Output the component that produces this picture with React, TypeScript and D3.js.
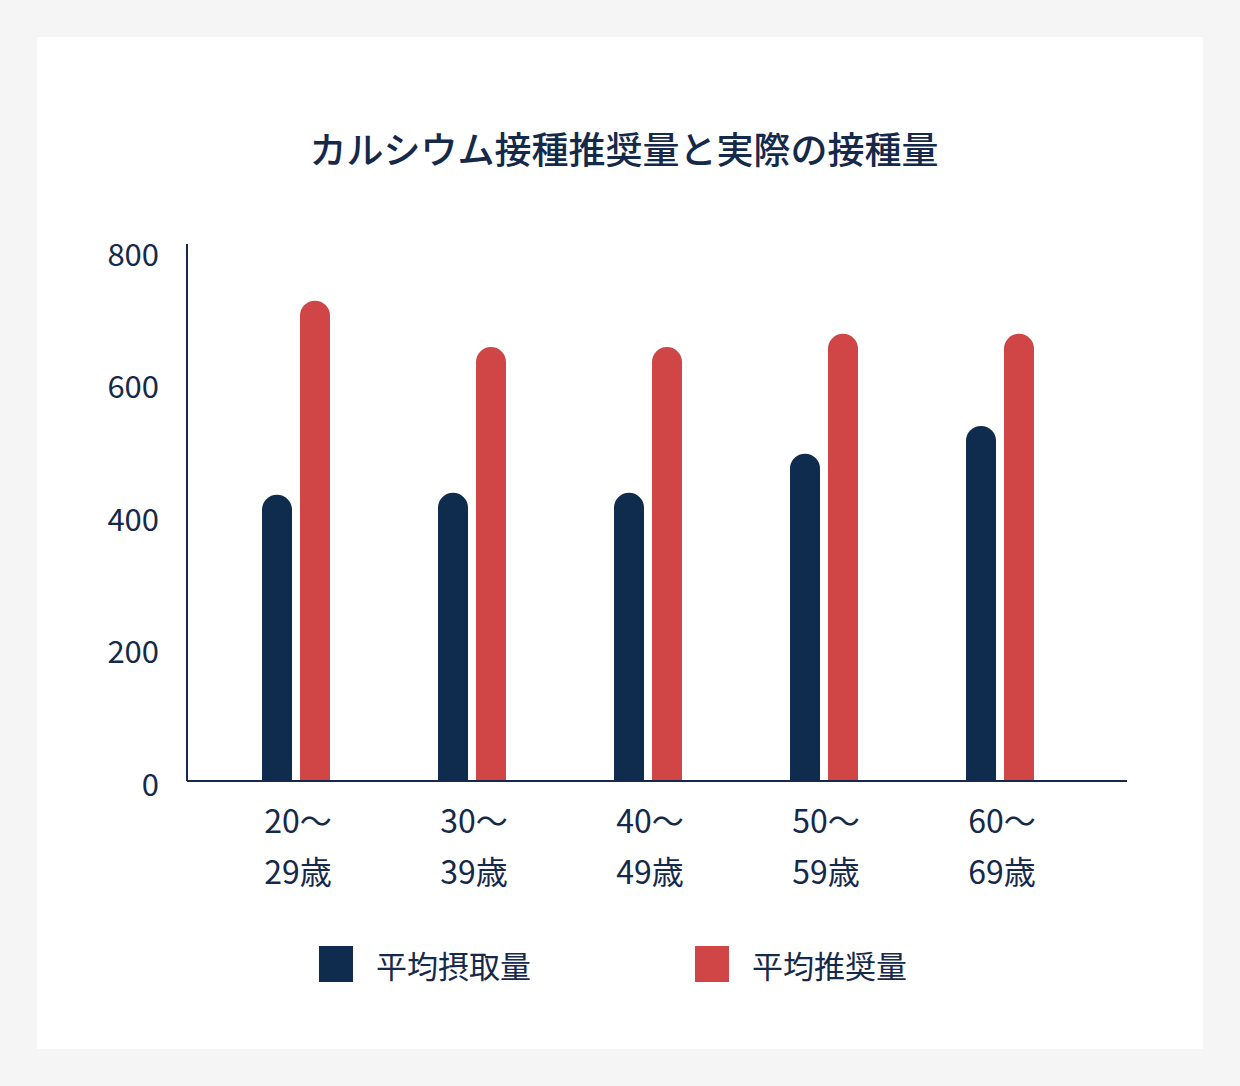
import React, { useEffect, useRef } from 'react';
import * as d3 from 'd3';

const ageTop = ['20〜', '30〜', '40〜', '50〜', '60〜'];
const ageBottom = ['29歳', '39歳', '49歳', '59歳', '69歳'];
const intake = [432, 435, 435, 494, 536];
const recommended = [725, 655, 655, 675, 675];
const yTicks = [0, 200, 400, 600, 800];
const seriesNames = ['平均摂取量', '平均推奨量'];
const seriesColors = ['#0f2b4d', '#d04647'];

const TEXT = '#15294a';
const FONT = '"Noto Sans CJK JP", "Noto Sans", sans-serif';

const App: React.FC = () => {
  const svgRef = useRef<SVGSVGElement>(null);

  useEffect(() => {
    if (!svgRef.current) return;
    const svg = d3.select(svgRef.current);
    svg.selectAll('*').remove();

    const width = 1240;
    const height = 1086;

    svg.append('rect').attr('width', width).attr('height', height).attr('fill', '#f5f5f5');
    svg.append('rect')
      .attr('x', 37).attr('y', 37)
      .attr('width', 1166).attr('height', 1012)
      .attr('fill', '#ffffff');

    // title
    svg.append('text')
      .attr('x', 624)
      .attr('y', 148)
      .attr('text-anchor', 'middle')
      .attr('dominant-baseline', 'central')
      .attr('fill', TEXT)
      .attr('font-family', FONT)
      .attr('font-size', 37)
      .attr('font-weight', 500)
      .text('カルシウム接種推奨量と実際の接種量');

    const left = 187;
    const right = 1127;
    const baseY = 781;

    const y = d3.scaleLinear().domain([0, 800]).range([baseY, 251]);
    const x0 = d3.scaleBand<string>().domain(ageTop).range([208, 1088]);
    const x1 = d3.scaleBand<string>().domain(seriesNames).range([-34, 34]).paddingInner(0.21);

    // y tick labels
    svg.append('g')
      .selectAll('text')
      .data(yTicks)
      .join('text')
      .attr('x', 159)
      .attr('y', (d) => y(d) + 1)
      .attr('text-anchor', 'end')
      .attr('dominant-baseline', 'central')
      .attr('fill', TEXT)
      .attr('font-family', FONT)
      .attr('font-size', 31)
      .text((d) => String(d));

    // bars
    const barPath = (bx: number, w: number, top: number) => {
      const r = w / 2;
      const p = d3.path();
      p.moveTo(bx, baseY);
      p.lineTo(bx, top + r);
      p.arc(bx + r, top + r, r, Math.PI, 0);
      p.lineTo(bx + w, baseY);
      p.closePath();
      return p.toString();
    };

    const series = [intake, recommended];
    series.forEach((vals, si) => {
      svg.append('g')
        .selectAll('path')
        .data(vals)
        .join('path')
        .attr('d', (v, i) => {
          const cx = (x0(ageTop[i]) ?? 0) + x0.bandwidth() / 2;
          const bx = cx + (x1(seriesNames[si]) ?? 0);
          return barPath(bx, x1.bandwidth(), y(v));
        })
        .attr('fill', seriesColors[si]);
    });

    // axes
    svg.append('line')
      .attr('x1', left).attr('x2', left)
      .attr('y1', 244).attr('y2', baseY)
      .attr('stroke', TEXT).attr('stroke-width', 2);
    svg.append('line')
      .attr('x1', left).attr('x2', right)
      .attr('y1', baseY).attr('y2', baseY)
      .attr('stroke', TEXT).attr('stroke-width', 2);

    // x labels
    const xl = svg.append('g');
    ageTop.forEach((t, i) => {
      const cx = (x0(t) ?? 0) + x0.bandwidth() / 2 + 2;
      [t, ageBottom[i]].forEach((line, li) => {
        xl.append('text')
          .attr('x', cx)
          .attr('y', 819 + li * 51)
          .attr('text-anchor', 'middle')
          .attr('dominant-baseline', 'central')
          .attr('fill', TEXT)
          .attr('font-family', FONT)
          .attr('font-size', 32)
          .text(line);
      });
    });

    // legend
    const legendX = [319, 695];
    seriesNames.forEach((name, i) => {
      svg.append('rect')
        .attr('x', legendX[i]).attr('y', 946)
        .attr('width', 34).attr('height', 36)
        .attr('fill', seriesColors[i]);
      svg.append('text')
        .attr('x', legendX[i] + 57)
        .attr('y', 964)
        .attr('dominant-baseline', 'central')
        .attr('fill', TEXT)
        .attr('font-family', FONT)
        .attr('font-size', 31)
        .text(name);
    });
  }, []);

  return (
    <svg
      ref={svgRef}
      width={1240}
      height={1086}
      style={{ position: 'absolute', left: 0, top: 0, display: 'block' }}
    />
  );
};

export default App;
